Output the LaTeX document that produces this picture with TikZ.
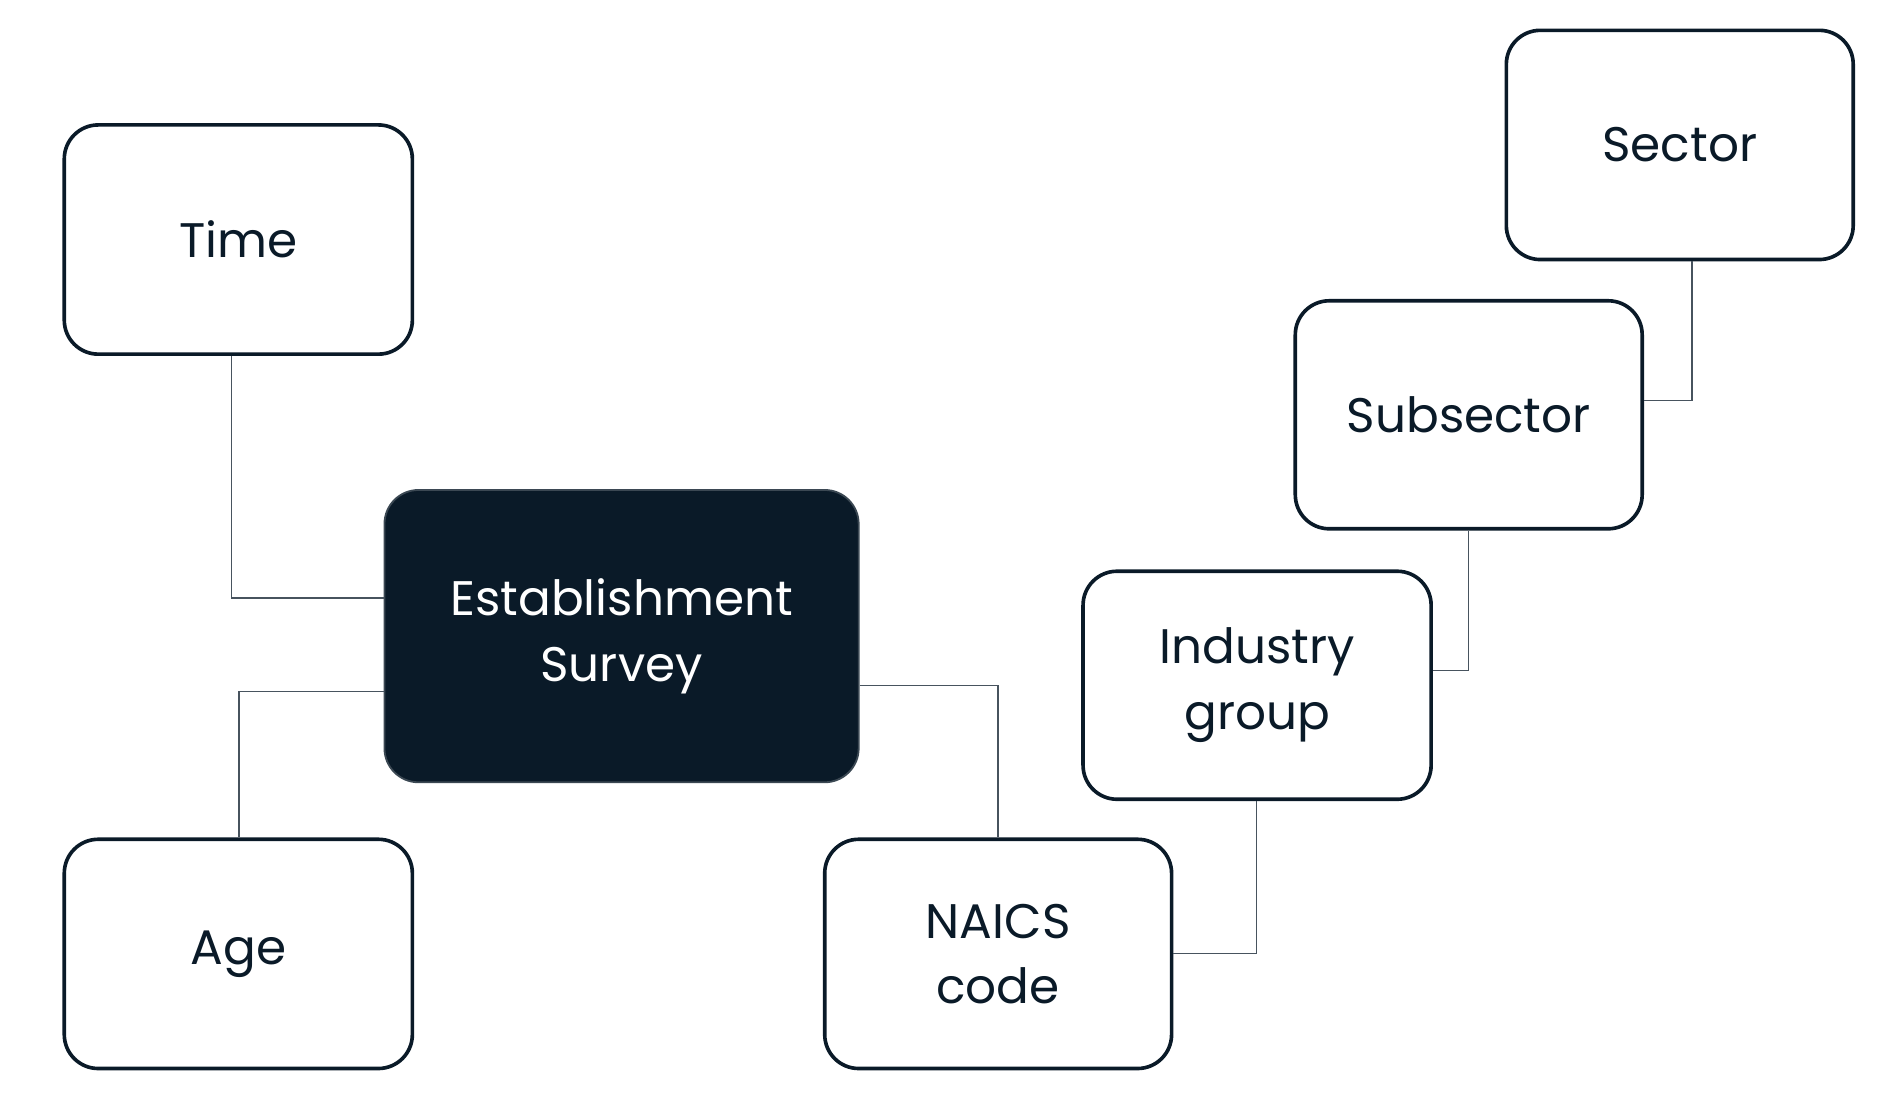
\documentclass[tikz,border=0pt]{standalone}
\usepackage{fontspec}
\setmainfont{Poppins}
\definecolor{ink}{HTML}{0A1A28}
\begin{document}
\begin{tikzpicture}[x=1pt,y=-1pt,
  box/.style={draw=ink,line width=3pt,rounded corners=28pt,fill=white,text=ink,align=center,font=\fontsize{40}{54}\selectfont,inner sep=0pt},
  link/.style={draw=ink!75,line width=1.2pt}]
\useasboundingbox (0,0) rectangle (1560,910);
\node[box,minimum width=287,minimum height=189] (time) at (196.5,197.5) {Time};
\node[box,minimum width=287,minimum height=189] (age) at (196.5,786.5) {Age};
\node[box,minimum width=391,minimum height=241,fill=ink,draw=ink!80,line width=1.5pt,text=white] (est) at (512.5,524.5) {Establishment\\Survey};
\node[box,minimum width=286,minimum height=189] (naics) at (823,786.5) {NAICS\\code};
\node[box,minimum width=287,minimum height=188] (ind) at (1036.5,565) {Industry\\group};
\node[box,minimum width=286,minimum height=188] (sub) at (1211,342) {Subsector};
\node[box,minimum width=286,minimum height=189] (sec) at (1385,119.5) {Sector};
\coordinate (c1) at (191,493);
\coordinate (c2) at (197,570);
\coordinate (c3) at (823,565);
\coordinate (c4) at (1036,786);
\coordinate (c5) at (1211,553);
\coordinate (c6) at (1395,330);
\begin{scope}[on background layer/.try]
\draw[link] (time.south -| c1) -- (c1) -- (c1 -| est.west);
\draw[link] (age.north -| c2) -- (c2) -- (c2 -| est.west);
\draw[link] (c3 -| est.east) -- (c3) -- (naics.north);
\draw[link] (c4 -| naics.east) -- (c4) -- (ind.south -| c4);
\draw[link] (c5 -| ind.east) -- (c5) -- (sub.south -| c5);
\draw[link] (c6 -| sub.east) -- (c6) -- (sec.south -| c6);
\end{scope}
\end{tikzpicture}
\end{document}
